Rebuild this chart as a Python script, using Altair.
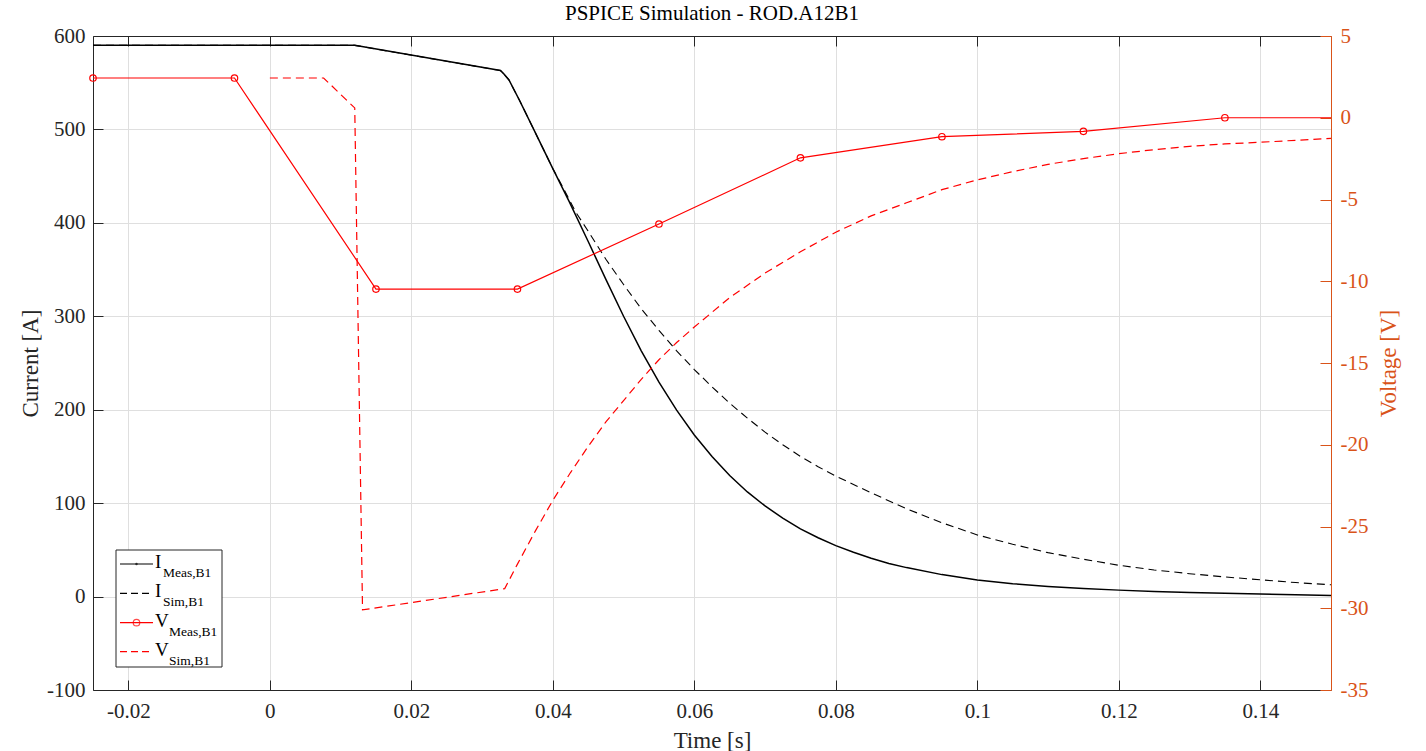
import altair as alt
import pandas as pd

FONT = "Liberation Serif"
ORANGE = "#D95319"
AX = "#262626"
GRID = "#dfdfdf"
RED = "#ff0000"

# ---------------- data ----------------
t_i_meas = [-0.025, 0.012, 0.0326, 0.033, 0.0338, 0.0353, 0.0373, 0.04, 0.0423, 0.045,
            0.0475, 0.05, 0.0525, 0.055, 0.0575, 0.06, 0.0625, 0.065, 0.0675, 0.07,
            0.0725, 0.075, 0.0775, 0.08, 0.0825, 0.085, 0.0875, 0.09, 0.095, 0.1,
            0.105, 0.11, 0.115, 0.12, 0.125, 0.13, 0.135, 0.14, 0.145, 0.15]
i_meas = [590, 590, 563, 560, 553, 531, 500, 458, 423, 380,
          339.5, 300, 263, 229.5, 199.5, 173, 150, 129.5, 112, 97,
          84, 72.5, 63, 54.5, 47.5, 41, 35.5, 31, 23.5, 17.8,
          13.8, 10.8, 8.6, 6.9, 5.5, 4.4, 3.5, 2.8, 2.0, 1.1]

t_i_sim = [-0.025, 0.012, 0.0326, 0.033, 0.0338, 0.0353, 0.0373, 0.04, 0.0415, 0.0432,
           0.045, 0.0475, 0.05, 0.0525, 0.055, 0.0575, 0.06, 0.0625, 0.065, 0.0675,
           0.07, 0.0725, 0.075, 0.0775, 0.08, 0.085, 0.09, 0.095, 0.1, 0.105,
           0.11, 0.115, 0.12, 0.125, 0.13, 0.135, 0.14, 0.145, 0.15]
i_sim = [590, 590, 563, 560, 553, 531, 500, 458, 437, 412,
         391, 361, 334, 308, 285, 263, 243, 224.5, 207, 191,
         176, 162.5, 150, 139, 129, 111, 94, 79, 66, 56,
         47, 40, 33.5, 28.5, 24.5, 21, 18, 15, 12.6]

t_v_meas = [-0.025, -0.005, 0.015, 0.035, 0.055, 0.075, 0.095, 0.115, 0.135, 0.15]
v_meas = [2.43, 2.43, -10.48, -10.48, -6.5, -2.45, -1.16, -0.83, 0.0, 0.0]
v_meas_marked = [True, True, True, True, True, True, True, True, True, False]

t_v_sim = [0.0, 0.0076, 0.012, 0.0131, 0.0332, 0.035, 0.0375, 0.04, 0.0425, 0.045,
           0.0475, 0.05, 0.0525, 0.055, 0.0575, 0.06, 0.065, 0.07, 0.075, 0.08,
           0.085, 0.09, 0.095, 0.1, 0.105, 0.11, 0.115, 0.12, 0.125, 0.13,
           0.135, 0.14, 0.145, 0.15]
v_sim = [2.43, 2.43, 0.6, -30.1, -28.8, -27.3, -25.3, -23.4, -21.7, -20.1,
         -18.6, -17.3, -16.0, -14.8, -13.75, -12.8, -11.0, -9.5, -8.2, -7.0,
         -6.0, -5.2, -4.4, -3.8, -3.3, -2.85, -2.5, -2.2, -1.95, -1.75,
         -1.6, -1.5, -1.38, -1.26]

x_ticks = [-0.02, 0, 0.02, 0.04, 0.06, 0.08, 0.1, 0.12, 0.14]
i_ticks = [-100, 0, 100, 200, 300, 400, 500, 600]
v_ticks = [-35, -30, -25, -20, -15, -10, -5, 0, 5]

legend_main = ["I", "I", "V", "V"]
legend_sub = ["Meas,B1", "Sim,B1", "Meas,B1", "Sim,B1"]

title_text = "PSPICE Simulation - ROD.A12B1"

# ---------------- frames ----------------
df_im = pd.DataFrame({"t": t_i_meas, "val": i_meas})
df_is = pd.DataFrame({"t": t_i_sim, "val": i_sim})
df_vm = pd.DataFrame({"t": t_v_meas, "val": v_meas})
df_vmp = pd.DataFrame({"t": t_v_meas, "val": v_meas, "m": v_meas_marked})
df_vmp = df_vmp[df_vmp["m"]]
df_vs = pd.DataFrame({"t": t_v_sim, "val": v_sim})
one = pd.DataFrame({"k": [0]})

W, H = 1238, 654

xscale = alt.Scale(domain=[-0.025, 0.15], nice=False, zero=False)
iscale = alt.Scale(domain=[-100, 600], nice=False, zero=False)
vscale = alt.Scale(domain=[-35, 5], nice=False, zero=False)

LBL = "datum.value + ''"

x_bottom = alt.Axis(
    orient="bottom", values=x_ticks, labelExpr=LBL, title="Time [s]",
    grid=True, gridColor=GRID, gridWidth=1,
    domainColor=AX, tickColor=AX, tickSize={"expr": "-10"}, labelPadding=20,
    labelFont=FONT, labelFontSize=21, labelColor=AX, labelFlush=False,
    titleFont=FONT, titleFontSize=23, titleFontWeight="normal", titleColor=AX,
    titleX=W / 2, titleY=57, titleBaseline="alphabetic",
)
x_top = alt.Axis(
    orient="top", values=x_ticks, labels=False, title=None, grid=False,
    domainColor=AX, tickColor=AX, tickSize={"expr": "-10"},
)
y_left = alt.Axis(
    orient="left", values=i_ticks, labelExpr=LBL, title="Current [A]",
    grid=True, gridColor=GRID, gridWidth=1,
    domainColor=AX, tickColor=AX, tickSize={"expr": "-10"}, labelPadding=18,
    labelFont=FONT, labelFontSize=21, labelColor=AX,
    titleFont=FONT, titleFontSize=23, titleFontWeight="normal", titleColor=AX,
    titleX=-63, titleY=H / 2, titleAngle=270, titleBaseline="middle",
)
y_right = alt.Axis(
    orient="right", values=v_ticks, labelExpr=LBL, title="Voltage [V]",
    grid=False,
    domainColor=ORANGE, tickColor=ORANGE, tickSize={"expr": "-11"}, labelPadding=20,
    labelFont=FONT, labelFontSize=21, labelColor=ORANGE,
    titleFont=FONT, titleFontSize=23, titleFontWeight="normal", titleColor=ORANGE,
    titleX=57, titleY=H / 2, titleAngle=270, titleBaseline="middle",
)

l_imeas = alt.Chart(df_im).mark_line(color="black", strokeWidth=1.5).encode(
    x=alt.X("t:Q", scale=xscale, axis=x_bottom),
    y=alt.Y("val:Q", scale=iscale, axis=y_left),
)
l_isim = alt.Chart(df_is).mark_line(color="black", strokeWidth=1.1, strokeDash=[8, 5]).encode(
    x=alt.X("t:Q", scale=xscale, axis=x_top),
    y=alt.Y("val:Q", scale=iscale, axis=None),
)
l_vmeas = alt.Chart(df_vm).mark_line(color=RED, strokeWidth=1.2).encode(
    x=alt.X("t:Q", scale=xscale, axis=None),
    y=alt.Y("val:Q", scale=vscale, axis=y_right),
)
l_vmp = alt.Chart(df_vmp).mark_point(shape="circle", filled=False, color=RED, size=42, strokeWidth=1.2, opacity=1).encode(
    x=alt.X("t:Q", scale=xscale, axis=None),
    y=alt.Y("val:Q", scale=vscale, axis=None),
)
l_vsim = alt.Chart(df_vs).mark_line(color=RED, strokeWidth=1.2, strokeDash=[8, 5]).encode(
    x=alt.X("t:Q", scale=xscale, axis=None),
    y=alt.Y("val:Q", scale=vscale, axis=None),
)

# ---------------- title and legend (layout only) ----------------
title = alt.Chart(one).mark_text(text=title_text, font=FONT, fontSize=21, align="center",
                                 baseline="alphabetic", color="black").encode(
    x=alt.value(W / 2), y=alt.value(-16))

leg_x0, leg_x1, leg_y0, leg_y1 = 23, 129, 514, 631
row_y = [528, 557.3, 586.7, 615.7]
box = alt.Chart(one).mark_rect(fill="white", stroke=AX, strokeWidth=1).encode(
    x=alt.value(leg_x0), x2=alt.value(leg_x1), y=alt.value(leg_y0), y2=alt.value(leg_y1))

leg_layers = [box]
styles = [("black", [1, 0]), ("black", [7, 4]), (RED, [1, 0]), (RED, [7, 4])]
for k in range(4):
    col, dash = styles[k]
    leg_layers.append(alt.Chart(one).mark_rule(color=col, strokeWidth=1.2, strokeDash=dash).encode(
        x=alt.value(27), x2=alt.value(60), y=alt.value(row_y[k]), y2=alt.value(row_y[k])))
    leg_layers.append(alt.Chart(one).mark_text(text=legend_main[k], font=FONT, fontSize=19,
                                               align="left", baseline="alphabetic", color="black").encode(
        x=alt.value(62), y=alt.value(row_y[k] + 4)))
    sub_x = 70 if legend_main[k] == "I" else 76
    leg_layers.append(alt.Chart(one).mark_text(text=legend_sub[k], font=FONT, fontSize=13.5,
                                               align="left", baseline="alphabetic", color="black").encode(
        x=alt.value(sub_x), y=alt.value(row_y[k] + 13)))
leg_layers.append(alt.Chart(one).mark_point(shape="circle", filled=True, color="black", size=6).encode(
    x=alt.value(43.5), y=alt.value(row_y[0])))
leg_layers.append(alt.Chart(one).mark_point(shape="circle", filled=False, color=RED, size=42, strokeWidth=1.2).encode(
    x=alt.value(43.5), y=alt.value(row_y[2])))

chart = alt.layer(
    l_imeas, l_isim, l_vmeas, l_vmp, l_vsim, title, *leg_layers
).resolve_scale(
    y="independent"
).resolve_axis(
    x="independent", y="independent"
).properties(
    width=W, height=H,
    padding={"left": 93, "top": 36, "right": 95, "bottom": 61},
    autosize=alt.AutoSizeParams(type="none"),
    background="white",
).configure_view(stroke=None)

chart.save("out.html", embed_options={"renderer": "svg", "actions": False})
